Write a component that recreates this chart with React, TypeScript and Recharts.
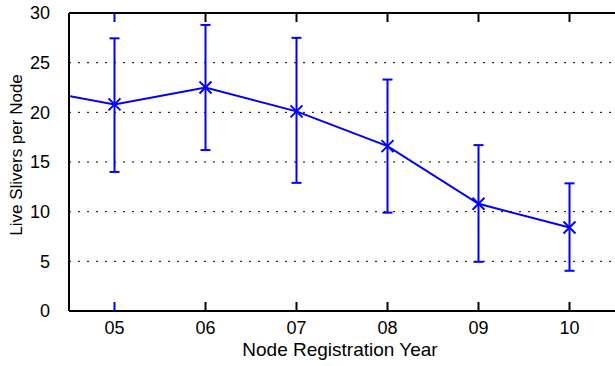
import { LineChart, Line, XAxis, YAxis, CartesianGrid, ErrorBar } from "recharts"

// registration year (04 lies just outside the visible range and is clipped)
const years = [4, 5, 6, 7, 8, 9, 10]
const tickYears = [5, 6, 7, 8, 9, 10]
const tickLabels = ["05", "06", "07", "08", "09", "10"]
const yTicks = [0, 5, 10, 15, 20, 25, 30]

const meanSlivers = [22.5, 20.8, 22.5, 20.1, 16.6, 10.8, 8.4]
const lowSlivers = [null, 14.0, 16.2, 12.9, 9.9, 4.95, 4.05]
const highSlivers = [null, 27.45, 28.8, 27.5, 23.3, 16.7, 12.85]

const BLUE = "#0000ff"
const FONT = "'Liberation Sans', Arial, Helvetica, sans-serif"
const FS = 18

const data = years.map((year, i) => {
  const lo = lowSlivers[i]
  const hi = highSlivers[i]
  return {
    year,
    value: meanSlivers[i],
    err: lo == null || hi == null ? null : [meanSlivers[i] - lo, hi - meanSlivers[i]],
  }
})

const labelFor = (v: number) => tickLabels[tickYears.indexOf(v)] ?? String(v)

const BottomTick = (props: any) => {
  const { x, y, payload } = props
  const color = payload.value === tickYears[0] ? BLUE : "#000"
  return (
    <g>
      <line x1={x} y1={y} x2={x} y2={y - 9} stroke={color} strokeWidth={2} />
      <text x={x} y={y + 23} textAnchor="middle" fontSize={FS} fontFamily={FONT} fill="#000">
        {labelFor(payload.value)}
      </text>
    </g>
  )
}

const TopTick = (props: any) => {
  const { x, y, payload } = props
  const color = payload.value === tickYears[0] ? BLUE : "#000"
  return <line x1={x} y1={y} x2={x} y2={y + 9} stroke={color} strokeWidth={2} />
}

const CrossDot = (props: any) => {
  const { cx, cy, index } = props
  if (index === 0 || cx == null) return <g key={`d${index}`} />
  const s = 6
  return (
    <g key={`d${index}`}>
      <line x1={cx - s} y1={cy - s} x2={cx + s} y2={cy + s} stroke={BLUE} strokeWidth={2} />
      <line x1={cx - s} y1={cy + s} x2={cx + s} y2={cy - s} stroke={BLUE} strokeWidth={2} />
    </g>
  )
}

const YLabel = (props: any) => {
  const { viewBox } = props
  const cy = viewBox.y + viewBox.height / 2 - 7
  return (
    <text
      x={22}
      y={cy}
      transform={`rotate(-90 22 ${cy})`}
      textAnchor="middle"
      fontSize={17}
      fontFamily={FONT}
      fill="#000"
    >
      Live Slivers per Node
    </text>
  )
}

const XLabel = (props: any) => {
  const { viewBox } = props
  const cx = viewBox.x + viewBox.width / 2 - 2
  return (
    <text x={cx} y={viewBox.y + 45} textAnchor="middle" fontSize={19} fontFamily={FONT} fill="#000">
      Node Registration Year
    </text>
  )
}

export default function App() {
  return (
    <div
      style={{
        position: "fixed",
        left: 0,
        top: 0,
        width: 615,
        height: 366,
        overflow: "hidden",
        background: "#fff",
      }}
    >
      <LineChart width={625} height={366} data={data} margin={{ top: 0, right: 10, bottom: 0, left: 0 }}>
        <CartesianGrid vertical={false} stroke="#000" strokeDasharray="2 7" strokeWidth={1} />
        <XAxis
          dataKey="year"
          type="number"
          domain={[4.5, 10.5]}
          ticks={tickYears}
          allowDataOverflow
          height={55}
          tickSize={0}
          tickMargin={0}
          tickLine={false}
          axisLine={{ stroke: "#000", strokeWidth: 2 }}
          tick={<BottomTick />}
          interval={0}
          label={{ content: <XLabel /> }}
        />
        <XAxis
          xAxisId="top"
          orientation="top"
          dataKey="year"
          type="number"
          domain={[4.5, 10.5]}
          ticks={tickYears}
          allowDataOverflow
          height={13}
          tickSize={0}
          tickMargin={0}
          tickLine={false}
          axisLine={{ stroke: "#000", strokeWidth: 2 }}
          tick={<TopTick />}
          interval={0}
        />
        <YAxis
          type="number"
          domain={[0, 30]}
          ticks={yTicks}
          allowDataOverflow
          width={69}
          tickSize={0}
          tickMargin={19}
          tickLine={false}
          axisLine={{ stroke: "#000", strokeWidth: 2 }}
          tick={{ fontSize: FS, fontFamily: FONT, fill: "#000" }}
          interval={0}
          label={{ content: <YLabel /> }}
        />
        <Line
          dataKey="value"
          stroke={BLUE}
          strokeWidth={2}
          dot={<CrossDot />}
          activeDot={false}
          isAnimationActive={false}
        >
          <ErrorBar dataKey="err" direction="y" width={5} stroke={BLUE} strokeWidth={2} />
        </Line>
      </LineChart>
    </div>
  )
}
